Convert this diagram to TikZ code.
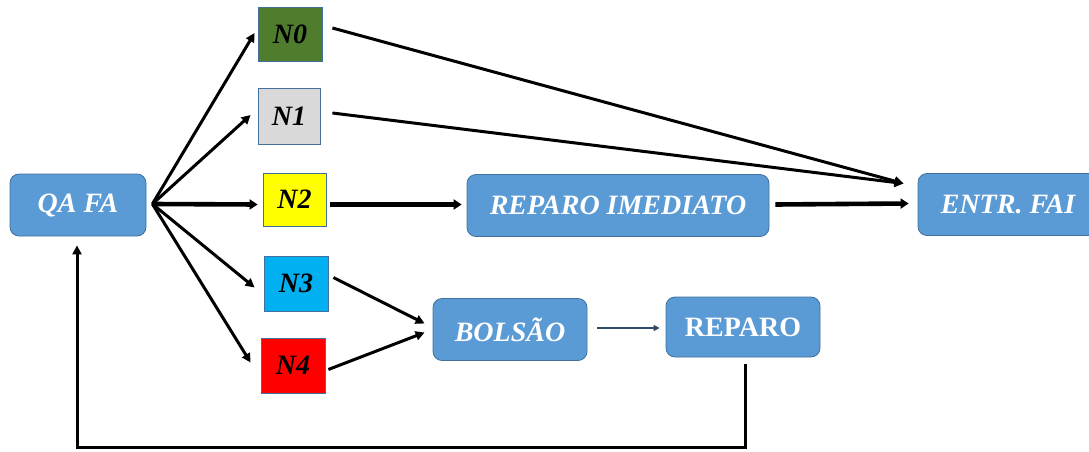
\documentclass[tikz,border=0pt]{standalone}
\usepackage{fontspec}
\setmainfont{Liberation Serif}[
  BoldFont={Liberation Serif Bold},
  ItalicFont={Liberation Serif Italic},
  BoldItalicFont={Liberation Serif Bold Italic}]
\usetikzlibrary{arrows.meta}
\definecolor{boxblue}{HTML}{5B9BD5}
\definecolor{boxedge}{HTML}{41719C}
\definecolor{lvgreen}{HTML}{507D2D}
\definecolor{lvgray}{HTML}{D9D9D9}
\definecolor{lvyellow}{HTML}{FFFF00}
\definecolor{lvcyan}{HTML}{00B0F0}
\definecolor{lvred}{HTML}{FF0000}
\definecolor{slate}{HTML}{2F4A66}
\tikzset{
  bluebox/.style={rounded corners=9pt, fill=boxblue, draw=boxedge, line width=0.8pt,
    text=white, inner sep=0pt, minimum height=62pt,
    font=\fontsize{28}{28}\selectfont\bfseries\itshape},
  lvbox/.style={draw=boxedge, line width=0.8pt, inner sep=0pt,
    minimum width=63pt, minimum height=55pt,
    font=\fontsize{28}{28}\selectfont\bfseries\itshape},
  arr/.style={line width=3pt, -{Triangle[length=9pt,width=9pt]}},
  thickarr/.style={line width=4.6pt, -{Triangle[length=8pt,width=10pt]}},
  thinarr/.style={line width=2.4pt, -{Triangle[length=6pt,width=6pt]}, color=slate},
}
\begin{document}
\begin{tikzpicture}[x=1pt,y=-1pt]
\useasboundingbox (0,0) rectangle (1089,452);
\begin{scope}
\clip (0,0) rectangle (1089,452);
% main blocks
\node[bluebox, minimum width=136pt] (qa) at (78,205) {QA FA};
\node[bluebox, minimum width=302pt] (imed) at (618,205.5) {REPARO IMEDIATO};
\node[bluebox, minimum width=180pt] (entr) at (1008,204.5) {ENTR. FAI};
\node[bluebox, minimum width=154pt] (bolsao) at (510,329.5) {BOLSÃO};
\node[bluebox, minimum width=154pt, minimum height=60pt,
      font=\fontsize{28}{28}\selectfont\bfseries] (rep) at (743,327) {REPARO};
% level boxes
\node[lvbox, fill=lvgreen, minimum width=64pt, minimum height=54pt] (n0) at (290,34) {N0};
\node[lvbox, fill=lvgray, minimum width=62pt, minimum height=56pt] (n1) at (289,116) {N1};
\node[lvbox, fill=lvyellow, minimum width=63pt, minimum height=53pt] (n2) at (294.5,199.5) {N2};
\node[lvbox, fill=lvcyan, minimum width=64pt, minimum height=55pt] (n3) at (296,283.5) {N3};
\node[lvbox, fill=lvred, minimum width=64pt, minimum height=55pt] (n4) at (293,365.5) {N4};
% fan-out from QA FA
\coordinate (fan) at ([xshift=6pt,yshift=1pt]qa.east);
\draw[arr] (fan) -- ([xshift=-3pt,yshift=1pt]n0.west);
\draw[arr] (fan) -- ([xshift=-7pt,yshift=1pt]n1.west);
\draw[thickarr] (fan) -- ([xshift=-5pt,yshift=-5pt]n2.west);
\draw[arr] (fan) -- ([xshift=-9pt,yshift=-4pt]n3.west);
\draw[arr] (fan) -- ([xshift=-10pt,yshift=3pt]n4.west);
% towards ENTR. FAI
\coordinate (entin) at ([xshift=-14pt,yshift=21pt]entr.west);
\draw[arr] ([xshift=10pt,yshift=6pt]n0.east) -- (entin);
\draw[arr] ([xshift=12pt,yshift=3pt]n1.east) -- (entin);
\draw[thickarr] ([xshift=4pt,yshift=-5pt]n2.east) -- ([xshift=-5pt,yshift=1pt]imed.west);
\draw[thickarr] ([xshift=6pt,yshift=1pt]imed.east) -- ([xshift=-9pt,yshift=1pt]entr.west);
% into the pocket and repair
\draw[arr] ([xshift=5pt,yshift=6pt]n3.east) -- ([xshift=-8pt,yshift=6pt]bolsao.west);
\draw[arr] ([xshift=3pt,yshift=-4pt]n4.east) -- ([xshift=-8pt,yshift=-3pt]bolsao.west);
\coordinate (repin) at ([xshift=-6pt,yshift=-1pt]rep.west);
\draw[thinarr] ([xshift=10pt]bolsao.east |- repin) -- (repin);
% return loop
\draw[arr] ([xshift=2pt,yshift=-7pt]rep.south) |- (77,447) -- ([xshift=-1pt,yshift=-9pt]qa.south);
\end{scope}
\end{tikzpicture}
\end{document}
